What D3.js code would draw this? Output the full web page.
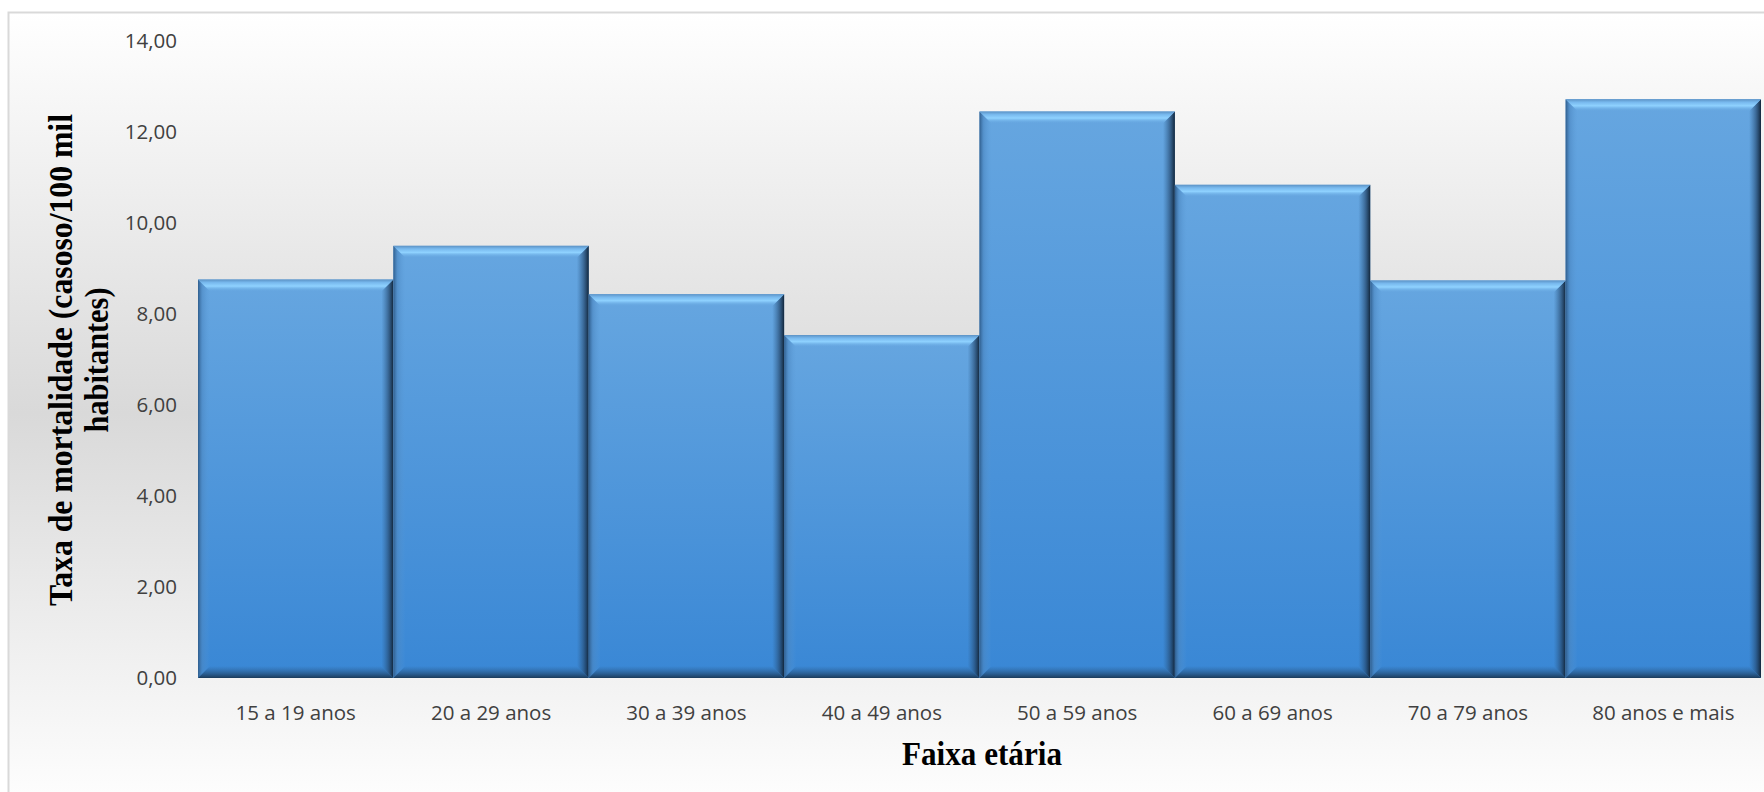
<!DOCTYPE html>
<html>
<head>
<meta charset="utf-8">
<script src="https://cdn.jsdelivr.net/npm/d3@7"></script>
<style>
  body { margin: 0; background: #ffffff; }
  .tick text { font-family: "Open Sans", sans-serif; font-size: 20.5px; fill: #404040; }
  .title { font-family: "Liberation Serif", "Times New Roman", serif; font-weight: bold; font-size: 34px; fill: #000; }
</style>
</head>
<body>
<div id="chart"></div>
<script>
// * Data
var faixas = ["15 a 19 anos", "20 a 29 anos", "30 a 39 anos", "40 a 49 anos",
  "50 a 59 anos", "60 a 69 anos", "70 a 79 anos", "80 anos e mais"];
var taxas = [8.75, 9.49, 8.43, 7.53, 12.44, 10.83, 8.73, 12.71];
var yTicks = [0, 2, 4, 6, 8, 10, 12, 14];

// * Dimensions
var W = 1764, H = 792;
var plot = { left: 198, right: 1761, top: 40.5, bottom: 678 };
var bev = 12;

var svg = d3.select("#chart").append("svg")
  .attr("width", W)
  .attr("height", H);

var defs = svg.append("defs");

function grad(id, x2, y2, stops) {
  var g = defs.append("linearGradient").attr("id", id)
    .attr("x1", 0).attr("y1", 0).attr("x2", x2).attr("y2", y2);
  stops.forEach(function (s) {
    g.append("stop").attr("offset", s[0]).attr("stop-color", s[1])
      .attr("stop-opacity", s[2] == null ? 1 : s[2]);
  });
}

// background and bar gradients
grad("bg", 0, 1, [["0%", "#ffffff"], ["50%", "#d9d9d9"], ["100%", "#ffffff"]]);
grad("barFill", 0, 1, [["0%", "#66a6e0"], ["100%", "#3987d5"]]);
grad("bevTop", 0, 1, [["0%", "#5c93c6"], ["25%", "#78b9ee"], ["55%", "#8fd2ff"], ["100%", "#66a6e0", 0]]);
grad("bevLeft", 1, 0, [["0%", "#2f5d8c"], ["35%", "#4b86c0", 0.6], ["100%", "#5a9ad6", 0]]);
grad("bevRight", 1, 0, [["0%", "#2d5d8c", 0], ["55%", "#24476d", 0.6], ["100%", "#12263b"]]);
grad("bevBottom", 0, 1, [["0%", "#2e6296", 0], ["60%", "#26527e", 0.7], ["100%", "#1a3a5a"]]);

// chart area with border
svg.append("rect")
  .attr("x", 8.5).attr("y", 12.5)
  .attr("width", W + 10).attr("height", H + 10)
  .attr("fill", "url(#bg)")
  .attr("stroke", "#d9d9d9")
  .attr("stroke-width", 2);

// * Scales
var x = d3.scaleBand().domain(faixas).range([plot.left, plot.right]).padding(0);
var y = d3.scaleLinear().domain([0, 14]).range([plot.bottom, plot.top]);

var ptBR = d3.formatLocale({ decimal: ",", thousands: ".", grouping: [3], currency: ["R$", ""] });

// * Bars
var bars = svg.selectAll(".bar").data(faixas).enter().append("g").attr("class", "bar");

bars.each(function (d, i) {
  var g = d3.select(this);
  var x0 = x(d), x1 = x(d) + x.bandwidth();
  var y0 = y(taxas[i]), y1 = y(0);
  g.append("rect")
    .attr("x", x0).attr("y", y0)
    .attr("width", x1 - x0).attr("height", y1 - y0)
    .attr("fill", "url(#barFill)");
  var pts = {
    bevLeft: [[x0, y0], [x0 + bev, y0 + bev], [x0 + bev, y1 - bev], [x0, y1]],
    bevRight: [[x1 - bev, y0 + bev], [x1, y0], [x1, y1], [x1 - bev, y1 - bev]],
    bevBottom: [[x0 + bev, y1 - bev], [x1 - bev, y1 - bev], [x1, y1], [x0, y1]],
    bevTop: [[x0, y0], [x1, y0], [x1 - bev, y0 + bev], [x0 + bev, y0 + bev]]
  };
  Object.keys(pts).forEach(function (k) {
    g.append("polygon")
      .attr("points", pts[k].map(function (p) { return p.join(","); }).join(" "))
      .attr("fill", "url(#" + k + ")");
  });
});

// * Axes
svg.append("g")
  .attr("transform", "translate(" + (plot.left - 21) + ",0)")
  .call(d3.axisLeft(y).tickValues(yTicks).tickSize(0).tickPadding(0).tickFormat(ptBR.format(".2f")))
  .call(function (g) { g.select(".domain").remove(); });

svg.append("g")
  .attr("transform", "translate(0," + plot.bottom + ")")
  .call(d3.axisBottom(x).tickSize(0).tickPadding(27))
  .call(function (g) { g.select(".domain").remove(); });

// * Axis titles
svg.append("text")
  .attr("class", "title")
  .attr("x", 982).attr("y", 765)
  .attr("text-anchor", "middle")
  .attr("textLength", 160)
  .attr("lengthAdjust", "spacingAndGlyphs")
  .text("Faixa etária");

var yt = svg.append("g").attr("transform", "translate(0,360) rotate(-90)");
yt.append("text")
  .attr("class", "title")
  .attr("x", 0).attr("y", 72)
  .attr("text-anchor", "middle")
  .attr("textLength", 492)
  .attr("lengthAdjust", "spacingAndGlyphs")
  .text("Taxa de mortalidade  (casoso/100 mil");
yt.append("text")
  .attr("class", "title")
  .attr("x", 0).attr("y", 108)
  .attr("text-anchor", "middle")
  .attr("textLength", 145)
  .attr("lengthAdjust", "spacingAndGlyphs")
  .text("habitantes)");
</script>
</body>
</html>
